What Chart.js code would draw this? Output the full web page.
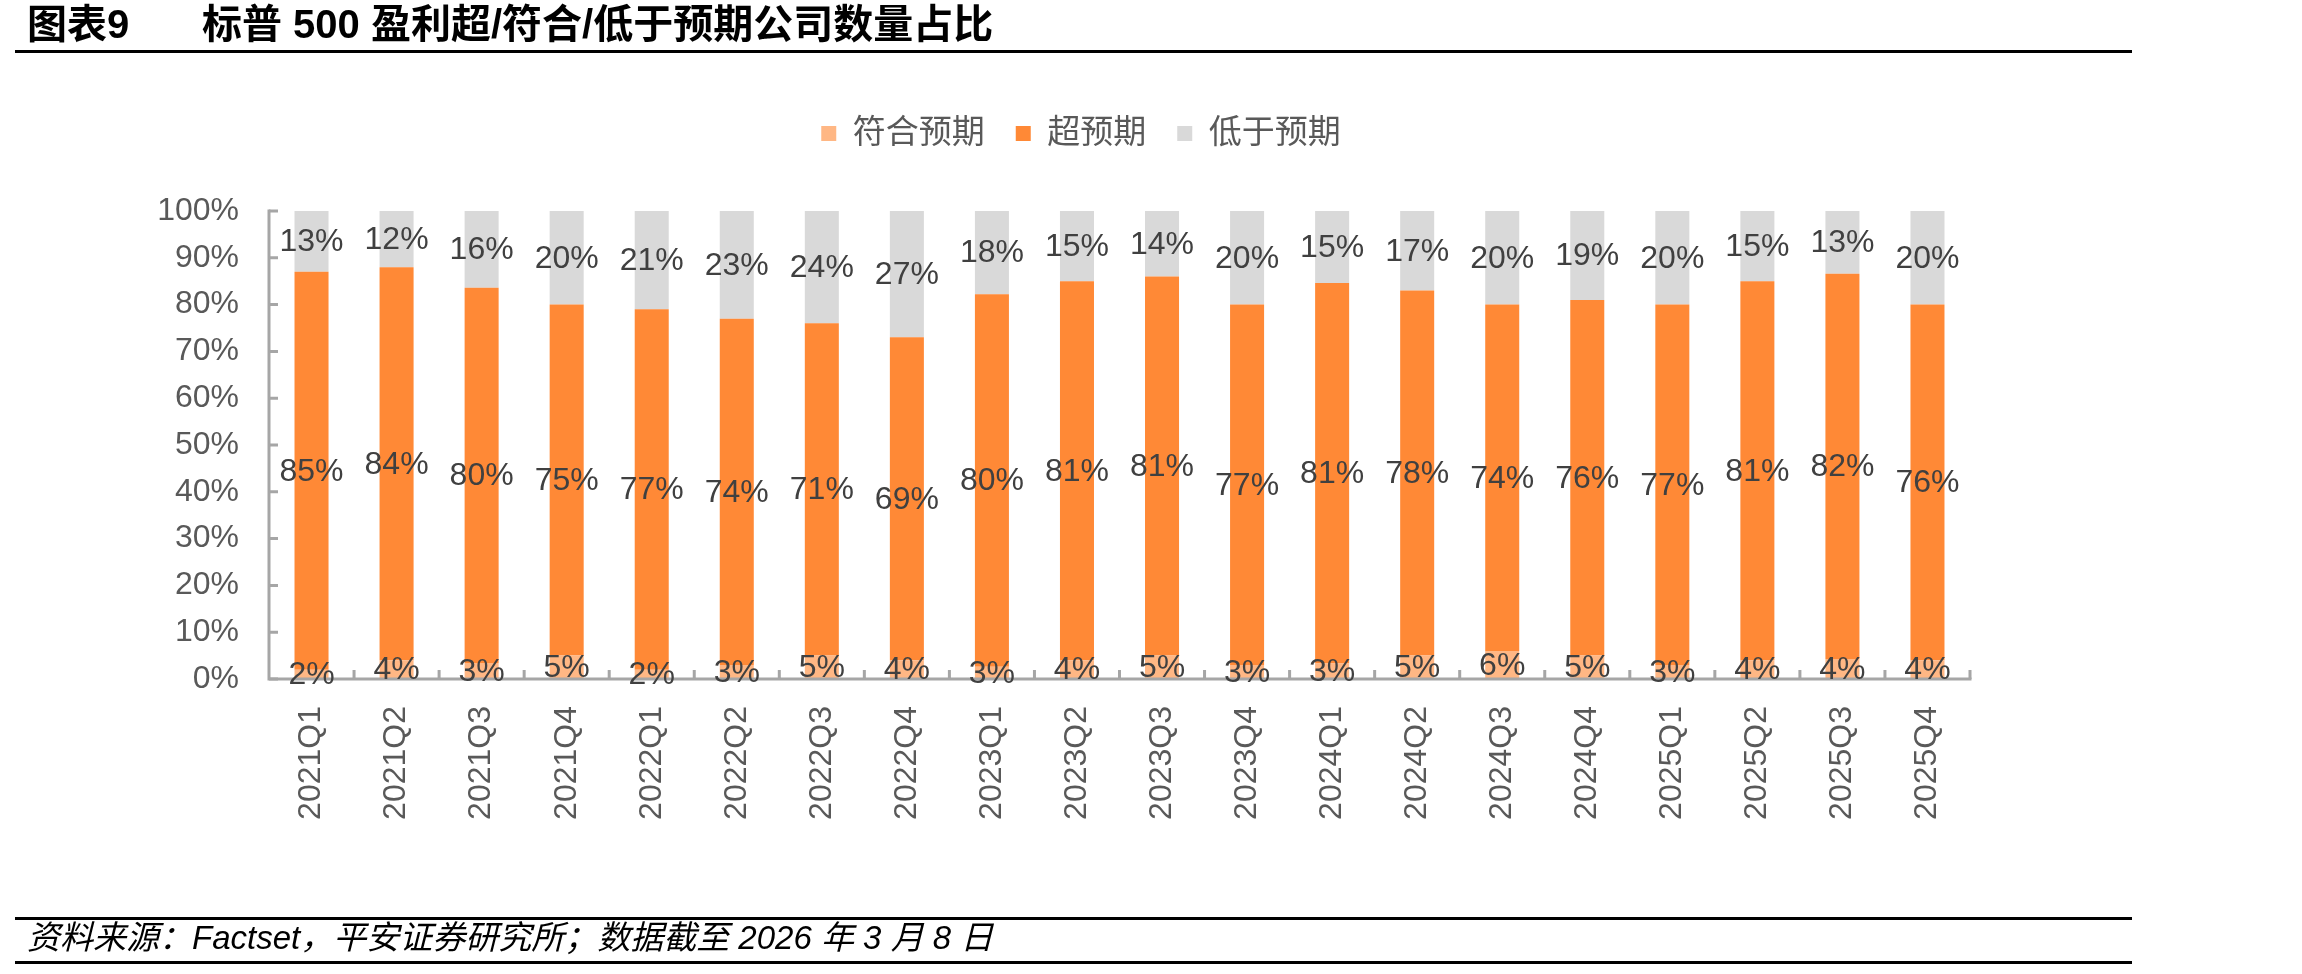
<!DOCTYPE html>
<html>
<head>
<meta charset="utf-8">
<script src="https://cdn.jsdelivr.net/npm/chart.js@4/dist/chart.umd.min.js"></script>
<style>
html,body{margin:0;padding:0;background:#fff;}
#wrap{position:relative;width:2302px;height:974px;overflow:hidden;background:#fff;}
#c{position:absolute;left:0;top:0;}
.txt{position:absolute;white-space:nowrap;line-height:1;color:#000;font-family:"Liberation Sans","Noto Sans CJK SC",sans-serif;}
.title{font-weight:bold;font-size:40px;top:4px;}
.foot{font-style:italic;font-size:33px;top:921px;left:27px;}
.rule{position:absolute;left:15px;width:2117px;background:#000;height:3px;}
</style>
</head>
<body>
<div id="wrap">
  <canvas id="c" width="2302" height="974"></canvas>
  <div class="txt title" style="left:27px;">图表9</div>
  <div class="txt title" style="left:202px;">标普 500 盈利超/符合/低于预期公司数量占比</div>
  <div class="rule" style="top:50px;"></div>
  <div class="rule" style="top:917px;"></div>
  <div class="txt foot">资料来源：Factset，平安证券研究所；数据截至 2026 年 3 月 8 日</div>
  <div class="rule" style="top:961px;"></div>
</div>
<script>
// ---- data (shares in %, labels show rounded values) ----
const categories = ['2021Q1','2021Q2','2021Q3','2021Q4','2022Q1','2022Q2','2022Q3','2022Q4',
  '2023Q1','2023Q2','2023Q3','2023Q4','2024Q1','2024Q2','2024Q3','2024Q4',
  '2025Q1','2025Q2','2025Q3','2025Q4'];
const seriesNames = ['符合预期','超预期','低于预期'];
const meetPct = [2, 4, 3.4, 5, 2, 3, 5, 4, 2.6, 4, 5, 3, 3.3, 5, 6, 5, 3, 4, 4.3, 4];
const beatPct = [85, 84, 80.2, 75, 77, 74, 71, 69, 79.6, 81, 81, 77, 81.3, 78, 74, 76, 77, 81, 82.3, 76];
const missPct = [13, 12, 16.4, 20, 21, 23, 24, 27, 17.8, 15, 14, 20, 15.4, 17, 20, 19, 20, 15, 13.4, 20];
const yTickValues = [0,10,20,30,40,50,60,70,80,90,100];

// ---- styles ----
const FONT = '"Liberation Sans", "Noto Sans CJK SC", sans-serif';
const colors = ['#FFB784', '#FF8936', '#D9D9D9'];
const AXIS_COLOR = '#A6A6A6';

Chart.defaults.font.family = FONT;

const legendFit = {
  id: 'legendFit',
  beforeInit(chart) {
    const lg = chart.legend;
    if (!lg) return;
    const orig = lg.fit;
    lg.fit = function () { orig.call(this); this.height = 125; };
  },
  afterLayout(chart) {
    const lg = chart.legend;
    if (!lg) return;
    lg.left = 192;
    lg.right = 1970;
    lg.width = lg.right - lg.left;
  }
};

const axisAndLabels = {
  id: 'axisAndLabels',
  afterDatasetsDraw(chart) {
    const ctx = chart.ctx;
    const ca = chart.chartArea;
    const xs = chart.scales.x, ys = chart.scales.y;
    ctx.save();
    ctx.strokeStyle = AXIS_COLOR;
    ctx.lineWidth = 3;
    ctx.lineCap = 'butt';
    const bottom = ys.getPixelForValue(0);
    const top = ys.getPixelForValue(100);
    ctx.beginPath();
    ctx.moveTo(ca.left, top - 1.5);
    ctx.lineTo(ca.left, bottom + 1.5);
    ctx.moveTo(ca.left - 1.5, bottom);
    ctx.lineTo(ca.right + 1.5, bottom);
    ctx.stroke();
    ctx.beginPath();
    yTickValues.forEach(v => {
      const y = ys.getPixelForValue(v);
      ctx.moveTo(ca.left, y);
      ctx.lineTo(ca.left + 9, y);
    });
    for (let i = 0; i < categories.length; i++) {
      let x;
      if (i < categories.length - 1) x = (xs.getPixelForTick(i) + xs.getPixelForTick(i + 1)) / 2;
      else x = ca.right;
      ctx.moveTo(x, bottom);
      ctx.lineTo(x, bottom - 9);
    }
    ctx.stroke();
    ctx.fillStyle = '#404040';
    ctx.font = '32px ' + FONT;
    ctx.textAlign = 'center';
    ctx.textBaseline = 'middle';
    chart.data.datasets.forEach((ds, di) => {
      const meta = chart.getDatasetMeta(di);
      meta.data.forEach((bar, i) => {
        const cy = (bar.y + bar.base) / 2;
        ctx.fillText(Math.round(ds.data[i]) + '%', bar.x, cy + 1);
      });
    });
    ctx.restore();
  }
};

new Chart(document.getElementById('c'), {
  type: 'bar',
  data: {
    labels: categories,
    datasets: [
      { label: seriesNames[0], data: meetPct, backgroundColor: colors[0] },
      { label: seriesNames[1], data: beatPct, backgroundColor: colors[1] },
      { label: seriesNames[2], data: missPct, backgroundColor: colors[2] }
    ]
  },
  options: {
    responsive: false,
    animation: false,
    events: [],
    devicePixelRatio: 1,
    layout: { padding: { left: 0, right: 332, top: 86, bottom: 135 } },
    datasets: { bar: { barPercentage: 0.4, categoryPercentage: 1.0, borderWidth: 0 } },
    plugins: {
      legend: {
        position: 'top',
        align: 'center',
        labels: {
          boxWidth: 15, boxHeight: 15, padding: 31,
          color: '#595959',
          font: { size: 33, family: FONT }
        }
      },
      title: { display: false },
      tooltip: { enabled: false }
    },
    scales: {
      x: {
        stacked: true,
        grid: { display: false, drawTicks: false },
        border: { display: false },
        ticks: {
          autoSkip: false, maxRotation: 90, minRotation: 90, padding: 27,
          color: '#595959', font: { size: 32, family: FONT }
        },
        afterFit(scale) { scale.height = 160; }
      },
      y: {
        stacked: true,
        min: 0, max: 100,
        grid: { display: false, drawTicks: false },
        border: { display: false },
        ticks: {
          stepSize: 10, padding: 30,
          color: '#595959', font: { size: 32, family: FONT },
          callback: v => v + '%'
        },
        afterFit(scale) { scale.width = 269; }
      }
    }
  },
  plugins: [legendFit, axisAndLabels]
});
</script>
</body>
</html>
